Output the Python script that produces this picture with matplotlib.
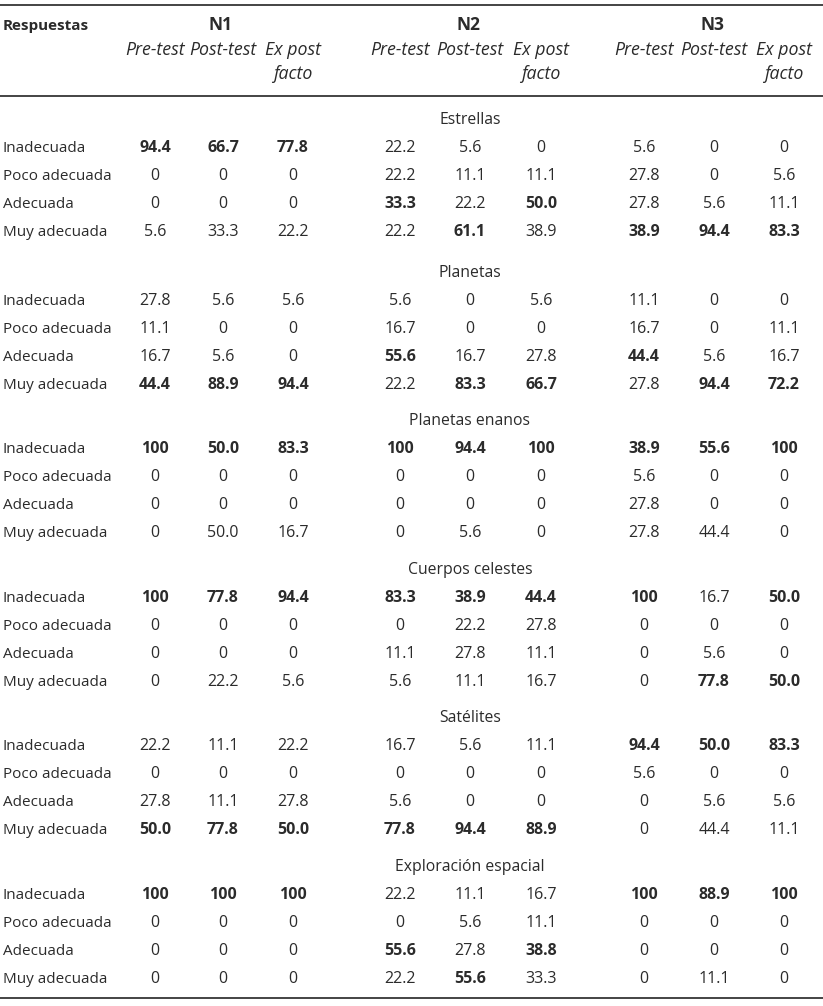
import matplotlib
matplotlib.use("Agg")
import matplotlib.pyplot as plt

plt.rcParams['font.family'] = ['Open Sans', 'DejaVu Sans']

groups = ["N1", "N2", "N3"]
phases = ["Pre-test", "Post-test", "Ex post\nfacto"]
answers = ["Inadecuada", "Poco adecuada", "Adecuada", "Muy adecuada"]
sections = ["Estrellas", "Planetas", "Planetas enanos", "Cuerpos celestes",
            "Satélites", "Exploración espacial"]

# values per section: rows = answers, cols = N1(pre,post,ex) N2(...) N3(...)
estrellas = [["94.4", "66.7", "77.8", "22.2", "5.6", "0", "5.6", "0", "0"],
             ["0", "0", "0", "22.2", "11.1", "11.1", "27.8", "0", "5.6"],
             ["0", "0", "0", "33.3", "22.2", "50.0", "27.8", "5.6", "11.1"],
             ["5.6", "33.3", "22.2", "22.2", "61.1", "38.9", "38.9", "94.4", "83.3"]]
planetas = [["27.8", "5.6", "5.6", "5.6", "0", "5.6", "11.1", "0", "0"],
            ["11.1", "0", "0", "16.7", "0", "0", "16.7", "0", "11.1"],
            ["16.7", "5.6", "0", "55.6", "16.7", "27.8", "44.4", "5.6", "16.7"],
            ["44.4", "88.9", "94.4", "22.2", "83.3", "66.7", "27.8", "94.4", "72.2"]]
enanos = [["100", "50.0", "83.3", "100", "94.4", "100", "38.9", "55.6", "100"],
          ["0", "0", "0", "0", "0", "0", "5.6", "0", "0"],
          ["0", "0", "0", "0", "0", "0", "27.8", "0", "0"],
          ["0", "50.0", "16.7", "0", "5.6", "0", "27.8", "44.4", "0"]]
cuerpos = [["100", "77.8", "94.4", "83.3", "38.9", "44.4", "100", "16.7", "50.0"],
           ["0", "0", "0", "0", "22.2", "27.8", "0", "0", "0"],
           ["0", "0", "0", "11.1", "27.8", "11.1", "0", "5.6", "0"],
           ["0", "22.2", "5.6", "5.6", "11.1", "16.7", "0", "77.8", "50.0"]]
satelites = [["22.2", "11.1", "22.2", "16.7", "5.6", "11.1", "94.4", "50.0", "83.3"],
             ["0", "0", "0", "0", "0", "0", "5.6", "0", "0"],
             ["27.8", "11.1", "27.8", "5.6", "0", "0", "0", "5.6", "5.6"],
             ["50.0", "77.8", "50.0", "77.8", "94.4", "88.9", "0", "44.4", "11.1"]]
exploracion = [["100", "100", "100", "22.2", "11.1", "16.7", "100", "88.9", "100"],
               ["0", "0", "0", "0", "5.6", "11.1", "0", "0", "0"],
               ["0", "0", "0", "55.6", "27.8", "38.8", "0", "0", "0"],
               ["0", "0", "0", "22.2", "55.6", "33.3", "0", "11.1", "0"]]

# bold marks (1 = bold), same layout as the values
bold_estrellas = ["111000000", "000000000", "000101000", "000010111"]
bold_planetas = ["000000000", "000000000", "000100100", "111011011"]
bold_enanos = ["111111111", "000000000", "000000000", "000000000"]
bold_cuerpos = ["111111101", "000000000", "000000000", "000000011"]
bold_satelites = ["000000111", "000000000", "000000000", "111111000"]
bold_exploracion = ["111000111", "000000000", "000101000", "000010000"]

tables = [estrellas, planetas, enanos, cuerpos, satelites, exploracion]
bolds = [bold_estrellas, bold_planetas, bold_enanos, bold_cuerpos,
         bold_satelites, bold_exploracion]

# layout (pixels)
W, H = 823, 1006
col_x = [155, 223, 293, 400, 470, 541, 644, 714, 784]
section_y = [119, 272, 420, 569, 717, 866]
row_step = 28
base = 5  # center -> baseline offset
txt = "#2b2b2b"
fs = 11
fs_num = 11.5
fs_it = 12.8

fig = plt.figure(figsize=(W / 100, H / 100), dpi=100)
ax = fig.add_axes([0, 0, 1, 1])
ax.set_xlim(0, W)
ax.set_ylim(H, 0)
ax.axis("off")

for y in (5, 96, 998):
    ax.plot([0, W], [y, y], color="#111111", lw=1.1, solid_capstyle="butt")

ax.text(3, 25 + base, "Respuestas", ha="left", va="baseline", fontsize=fs,
        fontweight="bold", color=txt)
for g, name in enumerate(groups):
    ax.text(col_x[g * 3 + 1] - 2, 25 + base, name, ha="center", va="baseline",
            fontsize=12.5, fontweight="bold", color=txt)
    for p, ph in enumerate(phases):
        for k, ln in enumerate(ph.split("\n")):
            ax.text(col_x[g * 3 + p], 50 + 24 * k + base, ln, ha="center",
                    va="baseline", fontsize=fs_it, style="italic", color=txt)

for s, title in enumerate(sections):
    y0 = section_y[s]
    ax.text(470, y0 + base, title, ha="center", va="baseline", fontsize=fs + 0.3,
            color=txt)
    for r, ans in enumerate(answers):
        y = y0 + row_step * (r + 1) + base
        ax.text(3, y, ans, ha="left", va="baseline", fontsize=fs, color=txt)
        for c in range(9):
            b = bolds[s][r][c] == "1"
            ax.text(col_x[c], y, tables[s][r][c], ha="center", va="baseline",
                    fontsize=fs_num, fontweight="bold" if b else "normal",
                    color=txt)

fig.savefig("out.png", dpi=100)
